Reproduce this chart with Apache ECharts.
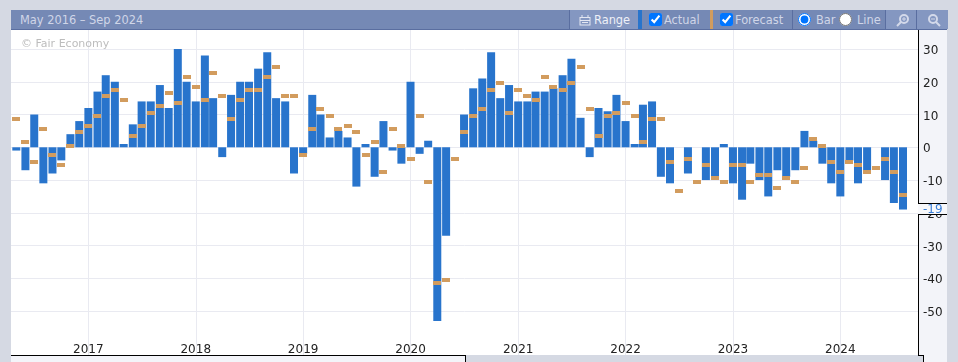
<!DOCTYPE html>
<html>
<head>
<meta charset="utf-8">
<script src="https://cdn.jsdelivr.net/npm/echarts@6/dist/echarts.min.js"></script>
<style>
  html, body { margin: 0; padding: 0; width: 958px; height: 362px; overflow: hidden; background: #d5d9e3; font-family: "DejaVu Sans", sans-serif; font-size: 12px; }
  #chart { position: absolute; left: 0; top: 0; width: 958px; height: 362px; }
  .abs { position: absolute; }
  #bar { left: 11px; top: 10px; width: 936px; height: 19px; background: #7589b5; border-bottom: 1px solid #5a6ea0; }
  .txt { position: absolute; top: 13px; line-height: 14px; font-size: 11.4px; color: #d0d6e8; white-space: nowrap; }
  .sec { position: absolute; top: 10px; height: 19px; border-left: 1px solid #5a6ea0; }
  .light { background: #8497c1; }
  input { position: absolute; margin: 0; }
</style>
</head>
<body>
  <!-- panels behind the chart -->
  <div class="abs" style="left:918px;top:30px;width:29px;height:325px;background:#f3f4f9"></div>
  <div class="abs" style="left:923px;top:355px;width:24px;height:7px;background:#f3f4f9;border-left:1px solid #000;box-sizing:border-box"></div>
  <div class="abs" style="left:11px;top:355px;width:455px;height:7px;background:#f3f4f9;border-top:1px solid #000;border-right:1px solid #000;box-sizing:border-box"></div>

  <div id="chart"></div>

  <!-- toolbar -->
  <div class="abs" id="bar"></div>
  <div class="txt" style="left:20px">May 2016 – Sep 2024</div>
  <div class="sec light" style="left:569px;width:68px"></div>
  <svg class="abs" style="left:579px;top:14px" width="12" height="12" viewBox="0 0 12 12" fill="none" stroke="#e3e7f2">
    <rect x="1" y="3.5" width="10" height="7.5"/><path d="M1 6.5h10M3 1v3M9 1v3M3 8.5h6"/>
  </svg>
  <div class="txt" style="left:594px;color:#eef0f7">Range</div>
  <div class="abs" style="left:638px;top:10px;width:4px;height:19px;background:#2874cc"></div>
  <input type="checkbox" checked style="left:649px;top:13px;width:13px;height:13px">
  <div class="txt" style="left:664px">Actual</div>
  <div class="abs" style="left:710px;top:10px;width:3px;height:19px;background:#d29c5e"></div>
  <input type="checkbox" checked style="left:720px;top:13px;width:13px;height:13px">
  <div class="txt" style="left:735px">Forecast</div>
  <div class="sec" style="left:792px;width:92px"></div>
  <input type="radio" name="mode" checked style="left:798px;top:13px;width:13px;height:13px">
  <div class="txt" style="left:816px">Bar</div>
  <input type="radio" name="mode" style="left:839px;top:13px;width:13px;height:13px">
  <div class="txt" style="left:857px">Line</div>
  <div class="sec light" style="left:885px;width:30px"></div>
  <svg class="abs" style="left:896px;top:13px" width="14" height="14" viewBox="0 0 14 14" fill="none" stroke="#d3d9ea" stroke-width="2">
    <circle cx="8" cy="6" r="4"/><path d="M5 9l-4 4"/><path d="M6 6h4M8 4v4" stroke-width="1"/>
  </svg>
  <div class="sec light" style="left:916px;width:31px"></div>
  <svg class="abs" style="left:927px;top:13px" width="14" height="14" viewBox="0 0 14 14" fill="none" stroke="#d3d9ea" stroke-width="2">
    <circle cx="6" cy="6" r="4"/><path d="M9 9l4 4"/><path d="M4 6h4" stroke-width="1"/>
  </svg>

  <script>
    const actual = [
      -1, -7, 10, -11, -8, -4, 4, 8,
      12, 17, 22, 20, 1, 7, 14, 14, 19, 12, 30, 20, 14, 28, 15, -3,
      16, 20, 20, 24, 29, 15, 14, -8,
      -2, 16, 10, 3, 5, 3, -12, 1, -9, 8, -1, -5,
      20, -2, 2, -53, -27, 0, 10, 18, 21, 29, 15, 19,
      14, 14, 17, 17, 18, 22, 27, 9, -3, 12, 11, 16,
      8, 1, 13, 14, -9, -11, 0, -8, 0, -10, -9, 1,
      -11, -16, -5, -10, -15, -7, -9, -7, 5, 2, -5, -11,
      -15, -4, -11, -7, 0, -10, -17, -19
    ];
    const forecast = [
      9, 2, -4, 6, -2, -5, 1, 5,
      7, 10, 16, 18, 15, 4, 7, 11, 13, 17, 14, 22, 19, 15, 23, 16,
      9, 15, 18, 18, 22, 25, 16, 16,
      -2, 6, 12, 10, 6, 7, 5, -2, 2, -7, 6, 1,
      -3, 10, -10, -41, -40, -3, 5, 10, 12, 18, 20, 11,
      18, 16, 15, 22, 19, 18, 20, 25, 12, 4, 10, 11,
      14, 10, 2, 9, 9, -4, -13, -3, -10, -5, -9, -10,
      -5, -5, -10, -8, -8, -12, -9, -10, -6, 3, 1, -4,
      -7, -4, -5, -7, -6, -3, -7, -14
    ];
    const yTicks = [30, 20, 10, 0, -10, -20, -30, -40, -50];
    const years = [2017, 2018, 2019, 2020, 2021, 2022, 2023, 2024];

    const months = actual.map((v, i) => new Date(2016, 4 + i, 1).getTime());
    const yearTicks = years.map((y) => new Date(y, 0, 1).getTime());
    const gridColor = "#e9eaf1";

    const myChart = echarts.init(document.getElementById("chart"), null, { renderer: "canvas" });
    myChart.setOption({
      animation: false,
      backgroundColor: "transparent",
      title: {
        text: "© Fair Economy",
        left: 16,
        top: 34,
        textStyle: { color: "#bdbdbd", fontSize: 11, fontWeight: "normal", fontFamily: "DejaVu Sans" },
      },
      grid: { left: 11, right: 40, top: 30, bottom: 7, show: true, backgroundColor: "#fff", borderWidth: 0 },
      xAxis: {
        // timestamps on a value axis, so the year lines can be given directly
        type: "value",
        min: new Date(2016, 3, 13).getTime(),
        max: new Date(2024, 8, 21).getTime(),
        axisLine: { show: false },
        axisTick: { show: false, customValues: yearTicks },
        splitLine: { show: true, lineStyle: { color: gridColor, width: 1 } },
        axisLabel: {
          inside: true,
          margin: -1,
          customValues: yearTicks,
          formatter: (v) => String(new Date(v).getFullYear()),
          color: "#222",
          fontSize: 12,
          fontFamily: "DejaVu Sans",
        },
      },
      yAxis: {
        type: "value",
        position: "right",
        min: -63.4,
        max: 35.8,
        axisLine: { show: false },
        axisTick: { show: false, customValues: yTicks },
        splitLine: { show: true, lineStyle: { color: gridColor, width: 1 } },
        axisLabel: {
          margin: 5,
          customValues: yTicks,
          formatter: "{v|{value}}",
          rich: {
            v: { padding: [4, 0, 0, 0], color: "#222", fontSize: 12, fontFamily: "DejaVu Sans" },
          },
        },
      },
      series: [
        {
          name: "Actual",
          type: "bar",
          barWidth: 8,
          itemStyle: { color: "#2874cc" },
          data: months.map((m, i) => [m, actual[i]]),
        },
        {
          name: "Forecast",
          type: "custom",
          z: 3,
          clip: false,
          encode: { x: 0, y: 1 },
          renderItem: function (params, api) {
            const c = api.coord([api.value(0), api.value(1)]);
            return {
              type: "rect",
              shape: { x: Math.round(c[0] - 4), y: Math.floor(c[1]), width: 8, height: 4 },
              style: { fill: "#d29c5e" },
            };
          },
          data: months.map((m, i) => [m, forecast[i]]),
        },
      ],
    });

    // right axis line with the flag for the latest value
    const last = actual[actual.length - 1];
    const lastY = Math.round(myChart.convertToPixel({ yAxisIndex: 0 }, last));
    myChart.setOption({
      graphic: [
        { type: "rect", z: 10, shape: { x: 918, y: lastY - 7, width: 29, height: 11 }, style: { fill: "#f7f8fb" } },
        { type: "line", z: 11, shape: { x1: 918.5, y1: 30, x2: 918.5, y2: lastY - 7 }, style: { stroke: "#000" } },
        { type: "line", z: 11, shape: { x1: 918.5, y1: lastY + 4, x2: 918.5, y2: 355 }, style: { stroke: "#000" } },
        { type: "line", z: 11, shape: { x1: 918, y1: 355.5, x2: 924, y2: 355.5 }, style: { stroke: "#000" } },
        { type: "line", z: 11, shape: { x1: 918, y1: lastY - 6.5, x2: 947, y2: lastY - 6.5 }, style: { stroke: "#000" } },
        { type: "line", z: 11, shape: { x1: 918, y1: lastY + 4.5, x2: 947, y2: lastY + 4.5 }, style: { stroke: "#000" } },
        {
          type: "text",
          z: 12,
          style: { x: 923, y: lastY - 6, text: String(last), fill: "#3a7fd9", font: "12px 'DejaVu Sans'" },
        },
      ],
    });
    window.onresize = myChart.resize;
  </script>
</body>
</html>
